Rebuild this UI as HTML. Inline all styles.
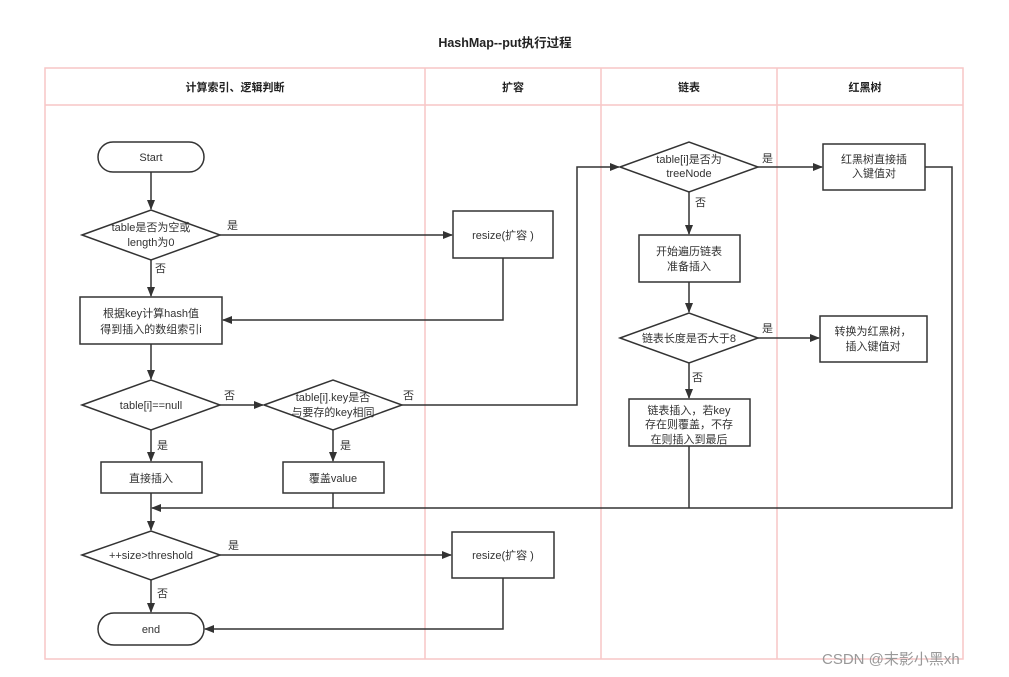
<!DOCTYPE html>
<html><head><meta charset="utf-8"><style>
html,body{margin:0;padding:0;background:#fff;}
svg{display:block;}
text{font-family:"Liberation Sans","Noto Sans CJK SC",sans-serif;font-size:11px;fill:#333;}
.h{font-weight:bold;font-size:11px;fill:#222;}
</style></head><body>
<svg width="1009" height="677" viewBox="0 0 1009 677" xmlns="http://www.w3.org/2000/svg">
<defs><marker id="a" markerWidth="10" markerHeight="8" refX="9" refY="4" orient="auto" markerUnits="userSpaceOnUse"><path d="M0,0 L10,4 L0,8 z" fill="#333"/></marker></defs>
<text x="505" y="47" text-anchor="middle" class="h" style="font-size:12.5px">HashMap--put执行过程</text>
<g stroke="#f7c6c6" stroke-width="1.5" fill="none">
<rect x="45" y="68" width="918" height="591"/>
<line x1="45" y1="105" x2="963" y2="105"/>
<line x1="425" y1="68" x2="425" y2="659"/>
<line x1="601" y1="68" x2="601" y2="659"/>
<line x1="777" y1="68" x2="777" y2="659"/>
</g>
<text x="235" y="91" text-anchor="middle" class="h">计算索引、逻辑判断</text>
<text x="513" y="91" text-anchor="middle" class="h">扩容</text>
<text x="689" y="91" text-anchor="middle" class="h">链表</text>
<text x="865" y="91" text-anchor="middle" class="h">红黑树</text>
<g stroke="#333" stroke-width="1.5" fill="#fff">
<rect x="98" y="142" width="106" height="30" rx="15"/>
<polygon points="82,235 151,210 220,235 151,260"/>
<rect x="453" y="211" width="100" height="47"/>
<rect x="80" y="297" width="142" height="47"/>
<polygon points="82,405 151,380 220,405 151,430"/>
<polygon points="264,405 333,380 402,405 333,430"/>
<rect x="101" y="462" width="101" height="31"/>
<rect x="283" y="462" width="101" height="31"/>
<polygon points="82,555 151,531 220,555 151,580"/>
<rect x="452" y="532" width="102" height="46"/>
<rect x="98" y="613" width="106" height="32" rx="16"/>
<polygon points="620,167 689,142 758,167 689,192"/>
<rect x="823" y="144" width="102" height="46"/>
<rect x="639" y="235" width="101" height="47"/>
<polygon points="620,338 689,313 758,338 689,363"/>
<rect x="820" y="316" width="107" height="46"/>
<rect x="629" y="399" width="121" height="47"/>
</g>
<g stroke="#333" stroke-width="1.5" fill="none" marker-end="url(#a)">
<line x1="151" y1="172" x2="151" y2="209"/>
<line x1="220" y1="235" x2="452" y2="235"/>
<line x1="151" y1="260" x2="151" y2="296"/>
<polyline points="503,258 503,320 223,320"/>
<line x1="151" y1="344" x2="151" y2="379"/>
<line x1="220" y1="405" x2="263" y2="405"/>
<line x1="151" y1="430" x2="151" y2="461"/>
<line x1="333" y1="430" x2="333" y2="461"/>
<polyline points="402,405 577,405 577,167 619,167"/>
<line x1="758" y1="167" x2="822" y2="167"/>
<line x1="689" y1="192" x2="689" y2="234"/>
<line x1="689" y1="282" x2="689" y2="312"/>
<line x1="758" y1="338" x2="819" y2="338"/>
<line x1="689" y1="363" x2="689" y2="398"/>
<polyline points="925,167 952,167 952,508 152,508"/>
<line x1="151" y1="493" x2="151" y2="530"/>
<line x1="220" y1="555" x2="451" y2="555"/>
<line x1="151" y1="580" x2="151" y2="612"/>
<polyline points="503,578 503,629 205,629"/>
</g>
<g stroke="#333" stroke-width="1.5" fill="none">
<line x1="333" y1="493" x2="333" y2="508"/>
<line x1="689" y1="446" x2="689" y2="508"/>
</g>
<g text-anchor="middle">
<text x="151" y="161">Start</text>
<text x="151" y="231">table是否为空或</text>
<text x="151" y="246">length为0</text>
<text x="503" y="239">resize(扩容 )</text>
<text x="151" y="317">根据key计算hash值</text>
<text x="151" y="333">得到插入的数组索引i</text>
<text x="151" y="409">table[i]==null</text>
<text x="333" y="401">table[i].key是否</text>
<text x="333" y="416">与要存的key相同</text>
<text x="151" y="482">直接插入</text>
<text x="333" y="482">覆盖value</text>
<text x="151" y="559">++size&gt;threshold</text>
<text x="503" y="559">resize(扩容 )</text>
<text x="151" y="633">end</text>
<text x="689" y="163">table[i]是否为</text>
<text x="689" y="177">treeNode</text>
<text x="874" y="163">红黑树直接插</text>
<text x="874" y="177">入键值对</text>
<text x="689" y="255">开始遍历链表</text>
<text x="689" y="270">准备插入</text>
<text x="689" y="342">链表长度是否大于8</text>
<text x="873" y="335">转换为红黑树，</text>
<text x="873" y="350">插入键值对</text>
<text x="689" y="414">链表插入，若key</text>
<text x="689" y="428">存在则覆盖，不存</text>
<text x="689" y="443">在则插入到最后</text>
</g>
<text x="227" y="229">是</text>
<text x="155" y="272">否</text>
<text x="224" y="399">否</text>
<text x="403" y="399">否</text>
<text x="157" y="449">是</text>
<text x="340" y="449">是</text>
<text x="228" y="549">是</text>
<text x="157" y="597">否</text>
<text x="762" y="162">是</text>
<text x="695" y="206">否</text>
<text x="762" y="332">是</text>
<text x="692" y="381">否</text>
<text x="822" y="664" style="font-size:15px;fill:#999">CSDN @末影小黑xh</text>
</svg>
</body></html>
